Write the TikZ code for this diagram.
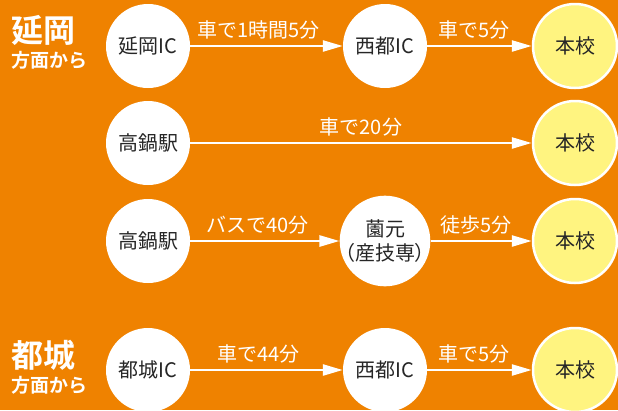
\documentclass[tikz,border=0pt]{standalone}
\usepackage{fontspec}
\setmainfont{Noto Sans CJK JP}[BoldFont={Noto Sans CJK JP Bold}]
\usetikzlibrary{arrows.meta}

\definecolor{bgorange}{HTML}{EF8200}
\definecolor{schoolyellow}{HTML}{FFF480}

\tikzset{
  station/.style={circle,fill=white,minimum size=84pt,inner sep=0pt,
    align=center,text=black!85,font=\fontsize{20}{23}\selectfont},
  school/.style={station,fill=schoolyellow,draw=white,line width=2.5pt},
  route/.style={draw=white,line width=2.5pt,-{Triangle[length=20pt,width=11pt]}},
  howlong/.style={above=2pt,text=white,font=\fontsize{20}{23}\selectfont},
  region/.style={anchor=west,text=white,font=\fontsize{32}{36}\selectfont\bfseries},
  subregion/.style={anchor=west,text=white,font=\fontsize{19}{22}\selectfont\bfseries}
}

\begin{document}
\begin{tikzpicture}[x=1pt,y=-1pt]

      \fill[bgorange] (0,0) rectangle (618,410);
      \useasboundingbox (0,0) rectangle (618,410);

      % headings on the left
      \node[region]    (nobeoka) at (8,30)  {延岡};
      \node[subregion] (nobeokasub) at (8,60) {方面から};
      \node[region]    (miyako) at (8,355) {都城};
      \node[subregion] (miyakosub) at (8,385) {方面から};

      \begin{scope}[every node/.style={station}]
        \node (n1) at (148,46)  {延岡IC};
        \node (n2) at (385,46)  {西都IC};
        \node (t1) at (148,143) {高鍋駅};
        \node (t2) at (148,241) {高鍋駅};
        \node[font=\fontsize{20}{24}\selectfont\addfontfeatures{RawFeature=+palt}]
          (t3) at (385,241) {薗元\\（産技専）};
        \node (m1) at (148,370) {都城IC};
        \node (m2) at (385,370) {西都IC};
      \end{scope}

      \begin{scope}[every node/.style={school}]
        \node (s1) at (575,46)  {本校};
        \node (s2) at (575,143) {本校};
        \node (s3) at (575,241) {本校};
        \node (s4) at (575,370) {本校};
      \end{scope}

      \begin{scope}[every node/.style={howlong}]
        \path (n1) edge[route] node[pos=.45] {車で1時間5分} (n2);
        \path (n2) edge[route] node[pos=.45] {車で5分} (s1);
        \path (t1) edge[route] node {車で20分} (s2);
        \path (t2) edge[route] node[pos=.45] {バスで40分} (t3);
        \path (t3) edge[route] node[pos=.45] {徒歩5分} (s3);
        \path (m1) edge[route] node[pos=.45] {車で44分} (m2);
        \path (m2) edge[route] node[pos=.45] {車で5分} (s4);
      \end{scope}

    \end{tikzpicture}
\end{document}
